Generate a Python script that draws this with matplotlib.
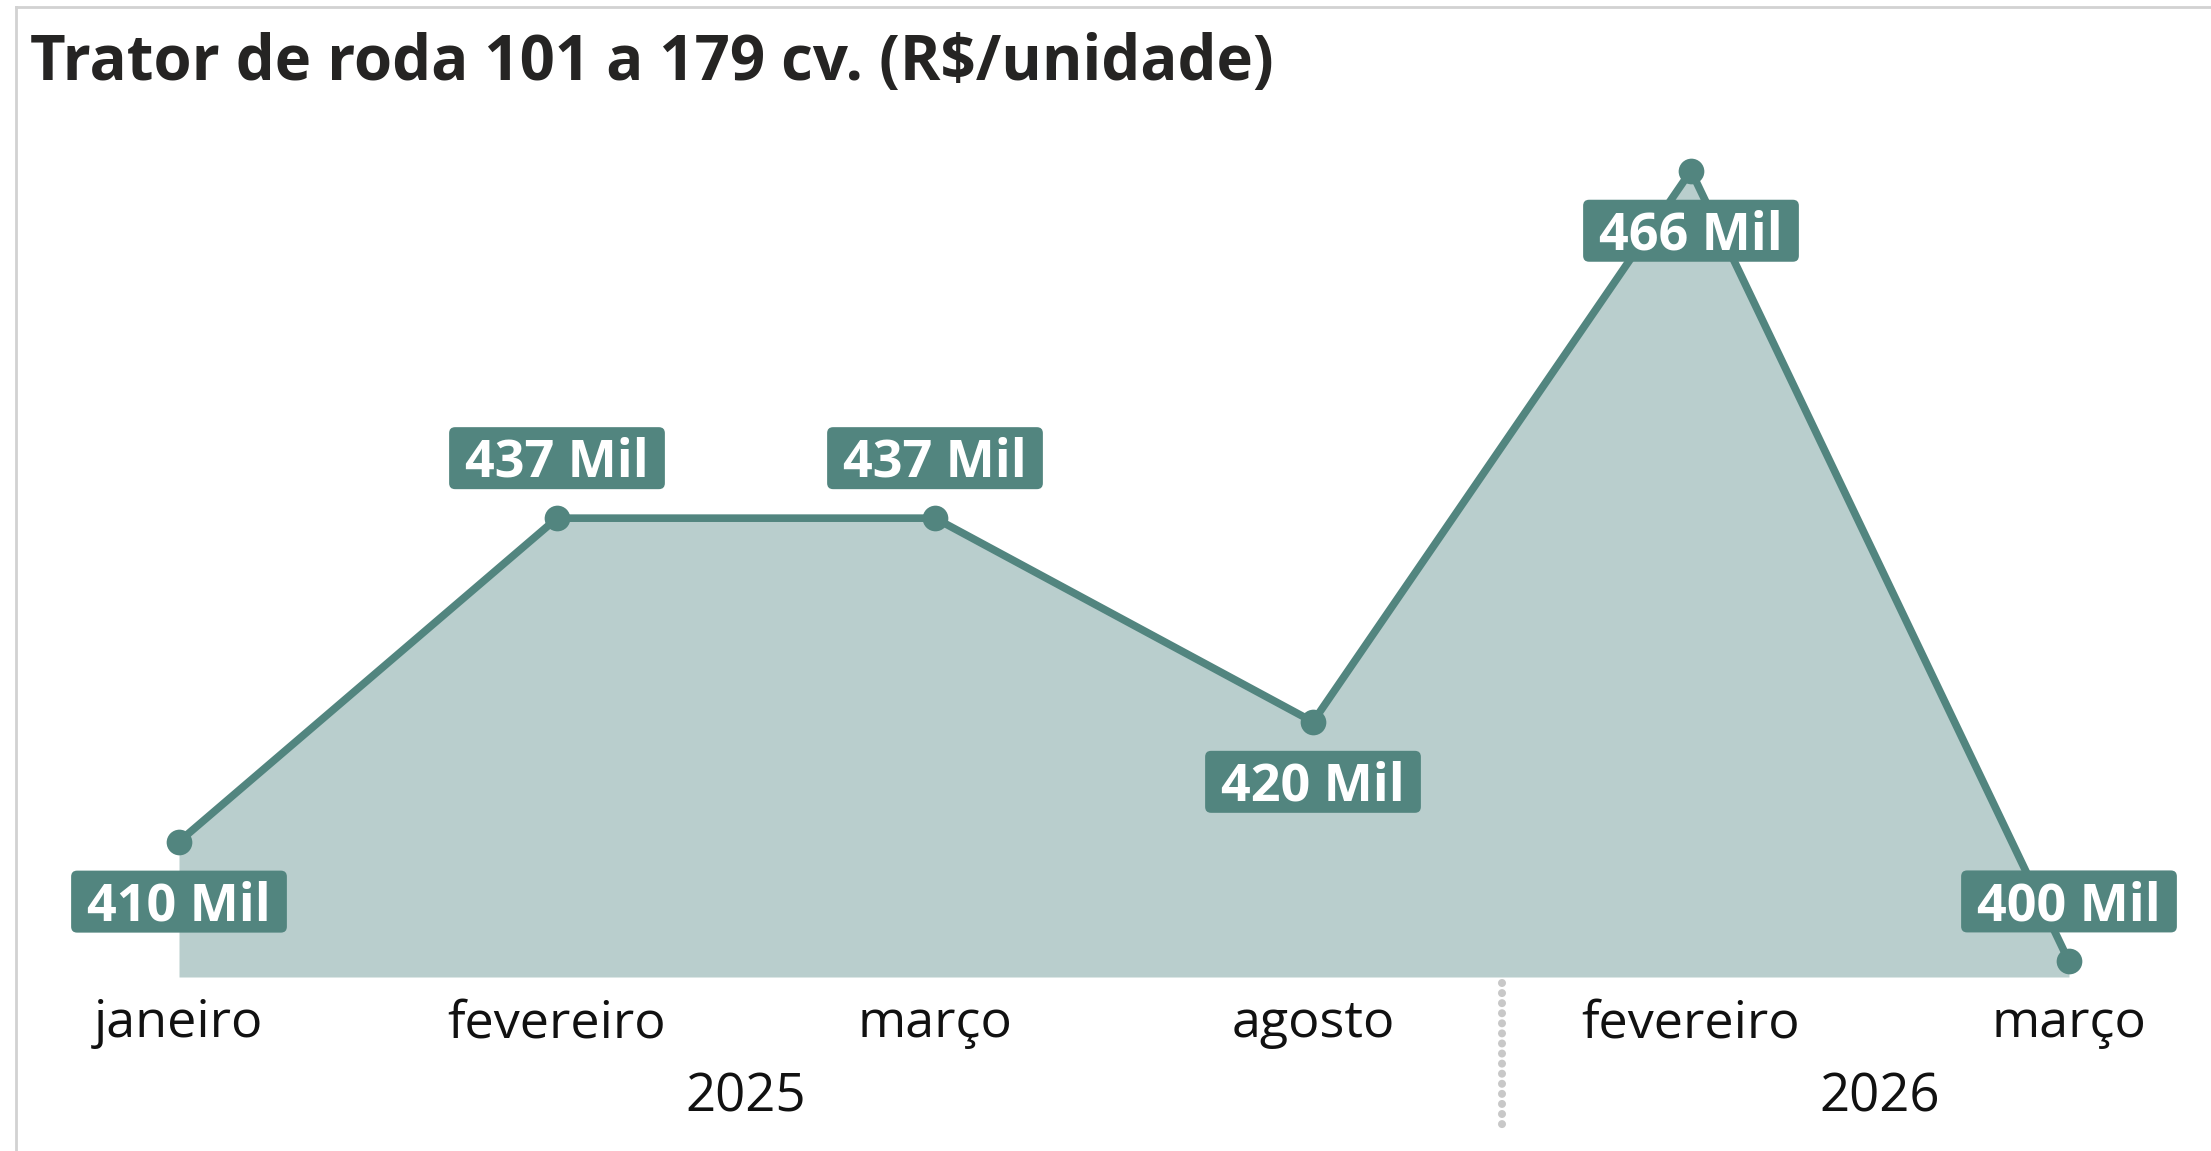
import matplotlib
matplotlib.use("Agg")
import matplotlib.pyplot as plt
import matplotlib.transforms as mtransforms
from matplotlib.patches import FancyBboxPatch
from matplotlib.lines import Line2D

# data
months = ['janeiro', 'fevereiro', 'março', 'agosto', 'fevereiro', 'março']
years = ['2025', '2025', '2025', '2025', '2026', '2026']
values = [410, 437, 437, 420, 466, 400]
label_side = [-1, 1, 1, -1, -1, 1]  # -1 label below point, 1 above

LINE = '#52857f'
FILL = '#b9cecd'
TITLE = '#252423'

W, H, DPI = 2211, 1151, 100
plt.rcParams['font.family'] = ['Open Sans', 'DejaVu Sans']

fig = plt.figure(figsize=(W / DPI, H / DPI), dpi=DPI)

def fy(row):
    # image row (from top) -> figure fraction
    return 1 - row / H

# plot area: full width, rows 100..977
ax = fig.add_axes([0, fy(977), 1, (977 - 100) / H])
x = list(range(len(values)))
x0, step = 179, 378
ax.set_xlim(-x0 / step, (W - x0) / step)
ybase = 398.7
ax.set_ylim(ybase, ybase + 877 / 11.98)
ax.axis('off')

ax.fill_between(x, values, ybase, color=FILL, lw=0, zorder=1)
ax.plot(x, values, color=LINE, lw=5.5, marker='o', ms=18.5, mew=0,
        solid_joinstyle='round', solid_capstyle='round', zorder=2, clip_on=False)

# month / year labels
xt = mtransforms.blended_transform_factory(ax.transData, ax.transAxes)
ah = 877
for xi, m in zip(x, months):
    ax.text(xi, -(1037 - 977) / ah, m, transform=xt, ha='center', va='baseline',
            fontsize=37.5, color='#111111')
for yr in sorted(set(years)):
    idx = [i for i, y in enumerate(years) if y == yr]
    ax.text(sum(idx) / len(idx), -(1112 - 977) / ah, yr, transform=xt,
            ha='center', va='baseline', fontsize=38, color='#111111')

# dotted separator between years
for i in range(1, len(years)):
    if years[i] != years[i - 1]:
        ax.plot([i - 0.5, i - 0.5], [-(983 - 977) / ah, -(1133 - 977) / ah],
                transform=xt, color='#c8c8c8', lw=5.8,
                linestyle=(0, (0.001, 1.25)), dash_capstyle='round', clip_on=False)

# value labels in boxes
fig.canvas.draw()
renderer = fig.canvas.get_renderer()
ident = mtransforms.IdentityTransform()
fs = 37.5
cap = 0.714 * fs / 72 * DPI
for xi, v, side in zip(x, values, label_side):
    px, py = ax.transData.transform((xi, v))
    cy = py + side * 60
    t = ax.text(px, cy - cap / 2, f'{v} Mil', transform=ident, ha='center',
                va='baseline', fontsize=fs, fontweight='bold', color='white', zorder=5)
    tw = t.get_window_extent(renderer).width
    bw, bh = tw + 32, 62
    box = FancyBboxPatch((px - bw / 2, cy - bh / 2), bw, bh,
                         boxstyle='round,pad=0,rounding_size=6', transform=ident,
                         fc=LINE, ec='none', zorder=4, clip_on=False)
    ax.add_artist(box)

# title
fig.text(30 / W, fy(80), 'Trator de roda 101 a 179 cv. (R$/unidade)', fontsize=44.5,
         fontweight='bold', color=TITLE, ha='left', va='baseline')

# frame lines (top, left)
fig.add_artist(Line2D([16 / W, 1], [fy(7), fy(7)], color='#d2d2d2', lw=2))
fig.add_artist(Line2D([16 / W, 16 / W], [fy(7), 0], color='#d2d2d2', lw=2))

fig.savefig('out.png', dpi=DPI)
